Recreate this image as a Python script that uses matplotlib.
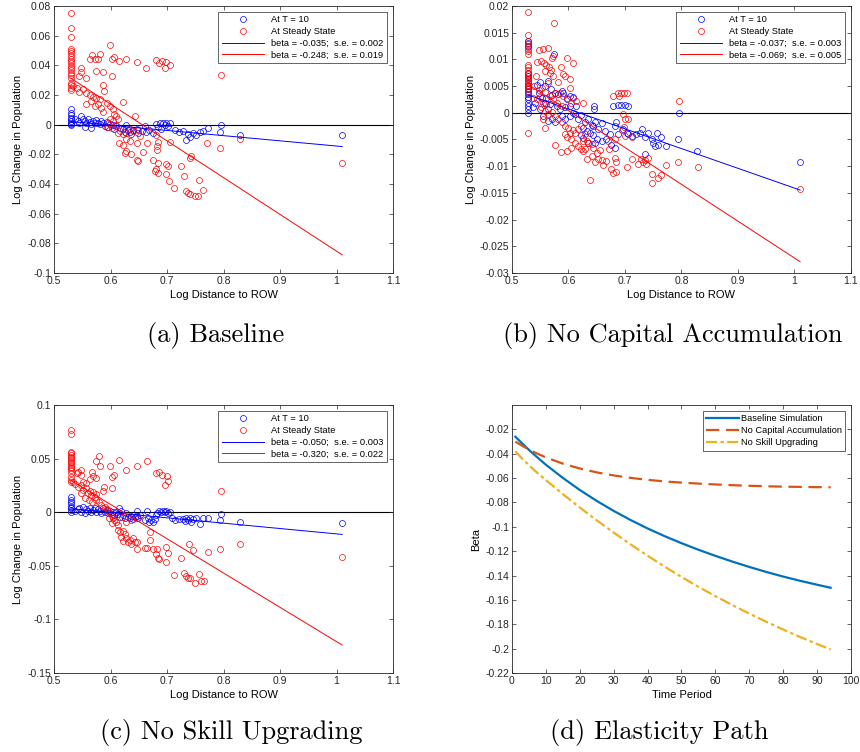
import matplotlib
matplotlib.use("Agg")
import matplotlib.pyplot as plt
from matplotlib.ticker import FuncFormatter

plt.rcParams['font.family'] = ['Liberation Sans', 'DejaVu Sans']
plt.rcParams['axes.unicode_minus'] = False

# === Panel (a) Baseline ===
a_blue_x = [0.530]*9 + [
    0.537, 0.543, 0.545, 0.547, 0.551, 0.554, 0.554, 0.557, 0.560, 0.563, 0.566, 0.566,
    0.569, 0.572, 0.575, 0.578, 0.581, 0.584, 0.587, 0.590, 0.593, 0.596, 0.599, 0.604,
    0.607, 0.610, 0.616, 0.622, 0.625, 0.628, 0.631, 0.634, 0.637, 0.640, 0.646, 0.649,
    0.655, 0.661, 0.663, 0.669, 0.675, 0.681, 0.684, 0.687, 0.690, 0.693, 0.696, 0.699,
    0.702, 0.705, 0.714, 0.722, 0.728, 0.734, 0.737, 0.740, 0.746, 0.752, 0.758, 0.764,
    0.773, 0.796, 0.794, 0.829, 1.010]
a_blue_y = [0.0108, 0.0081, 0.0063, 0.0047, 0.0036, 0.0025, 0.0014, 0.0002, -0.0004] + [
    0.0036, 0.0025, 0.0014, 0.0058, 0.0041, 0.0025, -0.0013, 0.0009, 0.0036, 0.0018, 0.0002, -0.0020,
    0.0025, 0.0014, 0.0032, 0.0014, 0.0002, 0.0025, 0.0009, -0.0009, 0.0018, -0.0013, 0.0002, -0.0004,
    -0.0027, -0.0009, -0.0020, -0.0031, -0.0049, -0.0004, -0.0036, -0.0049, -0.0065, -0.0036, -0.0031, -0.0054,
    -0.0043, -0.0009, -0.0049, -0.0036, -0.0054, 0.0002, -0.0013, 0.0014, -0.0027, 0.0009, -0.0004, 0.0014,
    -0.0009, 0.0009, -0.0036, -0.0049, -0.0043, -0.0103, -0.0065, -0.0081, -0.0054, -0.0072, -0.0049, -0.0043,
    -0.0020, 0.0000, -0.0049, -0.0072, -0.0070]

a_red_x = [0.530]*20 + [
    0.599, 0.568, 0.564, 0.572, 0.578, 0.582, 0.602, 0.607, 0.615, 0.627, 0.646, 0.663,
    0.681, 0.686, 0.692, 0.699, 0.696, 0.705, 0.547, 0.548, 0.545, 0.556, 0.575, 0.587,
    0.603, 0.796, 0.534, 0.540, 0.545, 0.551, 0.557, 0.563, 0.569, 0.574, 0.581, 0.587,
    0.588, 0.566, 0.557, 0.572, 0.578, 0.584, 0.587, 0.593, 0.599, 0.604, 0.607, 0.610,
    0.613, 0.604, 0.622, 0.643, 0.599, 0.596, 0.593, 0.602, 0.610, 0.616, 0.613, 0.622,
    0.628, 0.634, 0.640, 0.649, 0.627, 0.634, 0.615, 0.622, 0.628, 0.637, 0.625, 0.647,
    0.652, 0.665, 0.681, 0.684, 0.682, 0.682, 0.658, 0.675, 0.647, 0.649, 0.684, 0.699,
    0.702, 0.681, 0.678, 0.684, 0.698, 0.704, 0.724, 0.740, 0.743, 0.730, 0.757, 0.749,
    0.734, 0.737, 0.712, 0.755, 0.764, 0.740, 0.771, 0.794, 0.829, 0.705, 1.010]
a_red_y = [0.0755, 0.0649, 0.0593, 0.0512, 0.0497, 0.0481, 0.0463, 0.0445, 0.0429, 0.0414,
           0.0396, 0.0380, 0.0369, 0.0351, 0.0333, 0.0317, 0.0279, 0.0265, 0.0249, 0.0234] + [
    0.0535, 0.0467, 0.0445, 0.0440, 0.0445, 0.0474, 0.0445, 0.0456, 0.0429, 0.0445, 0.0422, 0.0384,
    0.0436, 0.0418, 0.0429, 0.0422, 0.0384, 0.0400, 0.0384, 0.0355, 0.0328, 0.0317, 0.0362, 0.0355,
    0.0328, 0.0333, 0.0261, 0.0249, 0.0220, 0.0238, 0.0211, 0.0198, 0.0189, 0.0182, 0.0171, 0.0265,
    0.0227, 0.0160, 0.0142, 0.0126, 0.0137, 0.0115, 0.0085, 0.0144, 0.0126, 0.0103, 0.0070, 0.0058,
    0.0036, 0.0025, 0.0155, 0.0058, 0.0036, 0.0014, -0.0013, -0.0020, -0.0004, -0.0043, -0.0058, -0.0065,
    -0.0054, -0.0027, -0.0043, -0.0036, -0.0094, -0.0110, -0.0121, -0.0139, -0.0177, -0.0200, -0.0189, -0.0121,
    -0.0076, -0.0126, -0.0072, -0.0117, -0.0144, -0.0171, -0.0184, -0.0238, -0.0238, -0.0243, -0.0256, -0.0267,
    -0.0279, -0.0301, -0.0312, -0.0328, -0.0335, -0.0380, -0.0279, -0.0222, -0.0211, -0.0346, -0.0373, -0.0481,
    -0.0447, -0.0458, -0.0425, -0.0481, -0.0443, -0.0470, -0.0126, -0.0155, -0.0100, -0.0117, -0.0256]

# === Panel (b) No Capital Accumulation ===
b_blue_x = [0.529]*17 + [
    0.575, 0.544, 0.550, 0.558, 0.564, 0.569, 0.576, 0.570, 0.582, 0.588, 0.591, 0.597,
    0.603, 0.608, 0.547, 0.553, 0.541, 0.558, 0.561, 0.567, 0.579, 0.585, 0.594, 0.603,
    0.608, 0.614, 0.538, 0.550, 0.564, 0.555, 0.570, 0.564, 0.576, 0.588, 0.594, 0.603,
    0.611, 0.617, 0.623, 0.629, 0.635, 0.641, 0.647, 0.626, 0.632, 0.644, 0.653, 0.659,
    0.638, 0.623, 0.626, 0.644, 0.650, 0.635, 0.647, 0.659, 0.664, 0.667, 0.673, 0.676,
    0.682, 0.685, 0.682, 0.688, 0.703, 0.697, 0.706, 0.712, 0.720, 0.726, 0.730, 0.735,
    0.741, 0.747, 0.750, 0.753, 0.759, 0.756, 0.763, 0.773, 0.793, 0.828, 0.795, 0.735,
    0.646, 0.646, 0.679, 0.687, 0.693, 0.700, 0.706, 1.010]
b_blue_y = [0.0134, 0.0130, 0.0125, 0.0075, 0.0069, 0.0063, 0.0056, 0.0050, 0.0044, 0.0039,
            0.0035, 0.0030, 0.0025, 0.0019, 0.0013, 0.0007, 0.0000] + [
    0.0110, 0.0053, 0.0058, 0.0050, 0.0060, 0.0044, 0.0037, 0.0033, 0.0035, 0.0041, 0.0038, 0.0025,
    0.0032, 0.0030, 0.0037, 0.0028, 0.0019, 0.0019, 0.0028, 0.0016, 0.0013, 0.0007, 0.0010, 0.0013,
    0.0000, 0.0012, 0.0010, 0.0007, 0.0008, -0.0006, -0.0012, -0.0015, -0.0017, -0.0006, -0.0011, -0.0006,
    -0.0003, -0.0012, -0.0005, -0.0018, -0.0012, -0.0022, -0.0017, -0.0028, -0.0034, -0.0025, -0.0031, -0.0020,
    -0.0037, -0.0042, -0.0048, -0.0042, -0.0050, -0.0056, -0.0056, -0.0053, -0.0034, -0.0050, -0.0040, -0.0061,
    -0.0065, -0.0018, -0.0025, -0.0040, -0.0038, -0.0031, -0.0040, -0.0043, -0.0040, -0.0037, -0.0030, -0.0046,
    -0.0037, -0.0050, -0.0056, -0.0062, -0.0061, -0.0038, -0.0045, -0.0062, -0.0050, -0.0071, -0.0001, -0.0078,
    0.0012, 0.0007, 0.0012, 0.0015, 0.0014, 0.0014, 0.0012, -0.0093]

b_red_x = [0.529]*24 + [
    0.575, 0.564, 0.547, 0.555, 0.544, 0.551, 0.557, 0.561, 0.565, 0.569, 0.558, 0.567,
    0.573, 0.570, 0.587, 0.598, 0.608, 0.594, 0.603, 0.591, 0.582, 0.542, 0.539, 0.547,
    0.553, 0.564, 0.573, 0.558, 0.576, 0.538, 0.544, 0.550, 0.555, 0.561, 0.567, 0.573,
    0.579, 0.585, 0.591, 0.588, 0.597, 0.603, 0.604, 0.608, 0.614, 0.626, 0.551, 0.558,
    0.564, 0.570, 0.576, 0.555, 0.558, 0.582, 0.588, 0.594, 0.600, 0.603, 0.608, 0.594,
    0.597, 0.605, 0.611, 0.617, 0.623, 0.629, 0.611, 0.617, 0.623, 0.626, 0.632, 0.635,
    0.641, 0.629, 0.626, 0.644, 0.650, 0.656, 0.653, 0.632, 0.641, 0.647, 0.661, 0.659,
    0.667, 0.671, 0.682, 0.683, 0.685, 0.676, 0.679, 0.685, 0.638, 0.577, 0.587, 0.598,
    0.703, 0.700, 0.712, 0.712, 0.723, 0.729, 0.732, 0.735, 0.741, 0.738, 0.748, 0.747,
    0.759, 0.763, 0.773, 0.794, 0.829, 0.795, 0.679, 0.687, 0.693, 0.699, 0.704, 0.689,
    0.697, 0.700, 0.706, 0.694, 0.699, 0.670, 0.605, 1.010]
b_red_y = [0.0189, 0.0146, 0.0134, 0.0128, 0.0124, 0.0120, 0.0116, 0.0111, 0.0089, 0.0085,
           0.0080, 0.0075, 0.0072, 0.0069, 0.0066, 0.0063, 0.0060, 0.0056, 0.0053, 0.0050,
           0.0047, 0.0044, 0.0041, -0.0038] + [
    0.0169, 0.0122, 0.0118, 0.0119, 0.0095, 0.0097, 0.0093, 0.0089, 0.0085, 0.0081, 0.0078, 0.0075,
    0.0106, 0.0103, 0.0086, 0.0103, 0.0093, 0.0069, 0.0063, 0.0072, 0.0058, 0.0069, 0.0050, 0.0043,
    0.0047, 0.0056, 0.0068, 0.0039, 0.0037, 0.0028, 0.0025, 0.0030, 0.0019, 0.0016, 0.0032, 0.0025,
    0.0019, 0.0037, 0.0032, 0.0013, 0.0028, 0.0047, 0.0019, 0.0027, 0.0022, 0.0019, 0.0010, 0.0003,
    -0.0003, 0.0002, -0.0006, -0.0012, -0.0028, -0.0012, -0.0018, -0.0025, -0.0028, -0.0037, -0.0032, -0.0040,
    -0.0046, -0.0050, -0.0037, -0.0031, -0.0025, -0.0040, -0.0057, -0.0062, -0.0067, -0.0053, -0.0053, -0.0057,
    -0.0059, -0.0068, -0.0071, -0.0065, -0.0075, -0.0070, -0.0087, -0.0086, -0.0081, -0.0092, -0.0098, -0.0088,
    -0.0090, -0.0068, -0.0050, -0.0084, -0.0093, -0.0105, -0.0112, -0.0111, -0.0126, -0.0061, -0.0073, -0.0071,
    -0.0101, -0.0043, -0.0046, -0.0087, -0.0096, -0.0087, -0.0092, -0.0088, -0.0084, -0.0096, -0.0115, -0.0131,
    -0.0123, -0.0116, -0.0098, -0.0092, -0.0101, 0.0023, 0.0032, 0.0037, 0.0037, 0.0038, 0.0038, 0.0032,
    -0.0003, -0.0011, -0.0012, -0.0032, -0.0026, -0.0053, -0.0065, -0.0142]

# === Panel (c) No Skill Upgrading ===
c_blue_x = [0.530]*8 + [
    0.537, 0.543, 0.545, 0.548, 0.551, 0.554, 0.557, 0.560, 0.563, 0.566, 0.569, 0.572,
    0.575, 0.578, 0.581, 0.584, 0.587, 0.590, 0.593, 0.596, 0.599, 0.602, 0.604, 0.607,
    0.610, 0.613, 0.615, 0.616, 0.619, 0.622, 0.625, 0.628, 0.631, 0.634, 0.637, 0.640,
    0.643, 0.646, 0.646, 0.649, 0.652, 0.665, 0.661, 0.666, 0.669, 0.672, 0.675, 0.678,
    0.680, 0.682, 0.686, 0.690, 0.693, 0.696, 0.699, 0.702, 0.705, 0.708, 0.714, 0.722,
    0.728, 0.731, 0.734, 0.737, 0.740, 0.743, 0.746, 0.752, 0.758, 0.764, 0.773, 0.796,
    0.794, 0.829, 1.010]
c_blue_y = [0.0145, 0.0114, 0.0092, 0.0073, 0.0051, 0.0036, 0.0020, 0.0005] + [
    0.0011, 0.0030, 0.0042, 0.0005, 0.0051, -0.0011, 0.0030, 0.0011, 0.0036, -0.0001, 0.0020, 0.0042,
    0.0005, 0.0030, 0.0011, -0.0011, 0.0036, 0.0005, 0.0020, -0.0011, 0.0011, -0.0020, -0.0001, -0.0026,
    0.0005, -0.0020, 0.0036, -0.0042, 0.0011, -0.0026, -0.0051, -0.0011, -0.0042, -0.0057, -0.0033, -0.0064,
    -0.0042, -0.0033, 0.0011, -0.0051, -0.0026, 0.0011, -0.0073, -0.0057, -0.0095, -0.0073, -0.0089, -0.0064,
    -0.0026, -0.0011, 0.0011, 0.0005, 0.0011, -0.0001, 0.0011, -0.0011, 0.0005, -0.0057, -0.0073, -0.0064,
    -0.0064, -0.0082, -0.0057, -0.0073, -0.0051, -0.0089, -0.0064, -0.0057, -0.0113, -0.0057, -0.0051, -0.0020,
    -0.0073, -0.0089, -0.0098]

c_red_x = [0.530]*18 + [
    0.580, 0.575, 0.582, 0.568, 0.569, 0.574, 0.563, 0.542, 0.547, 0.548, 0.540, 0.599,
    0.615, 0.627, 0.646, 0.665, 0.603, 0.607, 0.603, 0.588, 0.587, 0.680, 0.686, 0.692,
    0.700, 0.696, 0.702, 0.796, 0.534, 0.538, 0.542, 0.547, 0.551, 0.556, 0.552, 0.557,
    0.560, 0.563, 0.566, 0.569, 0.572, 0.575, 0.548, 0.554, 0.562, 0.568, 0.574, 0.580,
    0.584, 0.590, 0.593, 0.596, 0.599, 0.602, 0.604, 0.607, 0.610, 0.613, 0.597, 0.603,
    0.613, 0.616, 0.622, 0.619, 0.625, 0.628, 0.634, 0.640, 0.643, 0.647, 0.622, 0.631,
    0.637, 0.647, 0.661, 0.665, 0.670, 0.675, 0.682, 0.681, 0.684, 0.686, 0.698, 0.702,
    0.698, 0.724, 0.712, 0.730, 0.734, 0.737, 0.740, 0.749, 0.757, 0.761, 0.765, 0.739,
    0.746, 0.773, 0.794, 0.829, 0.670, 0.647, 0.637, 0.627, 0.621, 1.010]
c_red_y = [0.0767, 0.0726, 0.0565, 0.0549, 0.0534, 0.0518, 0.0502, 0.0487, 0.0471, 0.0456,
           0.0440, 0.0425, 0.0409, 0.0394, 0.0362, 0.0331, 0.0300, 0.0278] + [
    0.0527, 0.0478, 0.0431, 0.0378, 0.0341, 0.0322, 0.0310, 0.0378, 0.0394, 0.0347, 0.0362, 0.0431,
    0.0487, 0.0394, 0.0431, 0.0478, 0.0331, 0.0347, 0.0223, 0.0238, 0.0198, 0.0362, 0.0378, 0.0347,
    0.0341, 0.0254, 0.0291, 0.0198, 0.0285, 0.0260, 0.0238, 0.0254, 0.0278, 0.0269, 0.0207, 0.0223,
    0.0176, 0.0198, 0.0160, 0.0185, 0.0145, 0.0167, 0.0176, 0.0129, 0.0114, 0.0098, 0.0114, 0.0092,
    0.0067, 0.0051, 0.0029, 0.0012, -0.0011, -0.0033, -0.0057, -0.0073, -0.0095, -0.0120, -0.0051, -0.0104,
    -0.0166, -0.0188, -0.0176, -0.0228, -0.0207, -0.0244, -0.0260, -0.0244, -0.0281, -0.0275, -0.0269, -0.0281,
    -0.0300, -0.0344, -0.0331, -0.0337, -0.0260, -0.0344, -0.0344, -0.0393, -0.0424, -0.0437, -0.0322, -0.0384,
    -0.0468, -0.0431, -0.0586, -0.0571, -0.0592, -0.0611, -0.0617, -0.0664, -0.0580, -0.0642, -0.0642, -0.0300,
    -0.0353, -0.0368, -0.0344, -0.0300, -0.0182, -0.0057, -0.0073, -0.0089, -0.0042, -0.0420]

# === Fitted lines: (slope, intercept) ===
fit_x = [0.53, 1.01]
a_fit_blue = (-0.035, 0.0206)
a_fit_red = (-0.248, 0.1627)
b_fit_blue = (-0.037, 0.0229)
b_fit_red = (-0.069, 0.0418)
c_fit_blue = (-0.050, 0.0298)
c_fit_red = (-0.320, 0.1993)
a_labels = ["beta = -0.035;  s.e. = 0.002", "beta = -0.248;  s.e. = 0.019"]
b_labels = ["beta = -0.037;  s.e. = 0.003", "beta = -0.069;  s.e. = 0.005"]
c_labels = ["beta = -0.050;  s.e. = 0.003", "beta = -0.320;  s.e. = 0.022"]

# === Panel (d) Elasticity path ===
t = [1, 3, 5, 7, 10, 15, 20, 25, 30, 35, 40, 45, 50, 55, 60, 65, 70, 75, 80, 85, 90, 94]
beta_base = [-0.026, -0.0315, -0.0368, -0.0418, -0.049, -0.0598, -0.0697, -0.0787, -0.0869, -0.0944,
             -0.1013, -0.1076, -0.1134, -0.1188, -0.1238, -0.1285, -0.1329, -0.1370, -0.1408,
             -0.1443, -0.1475, -0.150]
beta_nocap = [-0.030, -0.0334, -0.0365, -0.0393, -0.0430, -0.0481, -0.0521, -0.0553, -0.0578, -0.0598,
              -0.0614, -0.0627, -0.0637, -0.0645, -0.0652, -0.0658, -0.0663, -0.0667, -0.0670,
              -0.0672, -0.0674, -0.0675]
beta_noskill = [-0.038, -0.0440, -0.0494, -0.0545, -0.0616, -0.0731, -0.0841, -0.0946, -0.1047, -0.1144,
                -0.1237, -0.1326, -0.1411, -0.1492, -0.1569, -0.1642, -0.1712, -0.1779, -0.1843,
                -0.1904, -0.1962, -0.2006]

FS_TICK = 7.5
FS_LABEL = 8
FS_LEG = 6.7
EDGE = '#262626'
fmt = FuncFormatter(lambda v, p: f'{round(v, 4):g}')


def style_axes(ax):
    for s in ax.spines.values():
        s.set_color(EDGE)
        s.set_linewidth(0.6)
    ax.tick_params(direction='in', top=True, right=True, length=3, width=0.5,
                   labelsize=FS_TICK, colors=EDGE, pad=2)
    ax.xaxis.set_major_formatter(fmt)
    ax.yaxis.set_major_formatter(fmt)


def finish_legend(leg):
    leg.get_frame().set_edgecolor(EDGE)
    leg.get_frame().set_linewidth(0.5)


def scatter_panel(ax, bx, by, rx, ry, fb, fr, labels, ylim, yticks):
    ax.axhline(0, color='black', lw=0.8, zorder=1)
    ax.plot(bx, by, 'o', ms=4.3, mfc='none', mec='blue', mew=0.5, label='At T = 10')
    ax.plot(rx, ry, 'o', ms=4.3, mfc='none', mec='red', mew=0.5, label='At Steady State')
    ax.plot(fit_x, [fb[1] + fb[0] * x for x in fit_x], color='blue', lw=0.7, label=labels[0])
    ax.plot(fit_x, [fr[1] + fr[0] * x for x in fit_x], color='red', lw=0.7, label=labels[1])
    ax.set_xlim(0.5, 1.1)
    ax.set_xticks([0.5, 0.6, 0.7, 0.8, 0.9, 1.0, 1.1])
    ax.set_ylim(*ylim)
    ax.set_yticks(yticks)
    ax.set_xlabel('Log Distance to ROW', fontsize=FS_LABEL, labelpad=3)
    ax.set_ylabel('Log Change in Population', fontsize=FS_LABEL, labelpad=3)
    style_axes(ax)
    leg = ax.legend(loc='upper right', fontsize=FS_LEG, handlelength=4.5, numpoints=1,
                    fancybox=False, framealpha=1, borderaxespad=0.6, labelspacing=0.3)
    finish_legend(leg)


fig = plt.figure(figsize=(8.6, 7.52), dpi=100)
ax_a = fig.add_axes([0.0628, 0.637, 0.3942, 0.355])
ax_b = fig.add_axes([0.5953, 0.637, 0.3942, 0.355])
ax_c = fig.add_axes([0.0628, 0.105, 0.3942, 0.3564])
ax_d = fig.add_axes([0.5953, 0.105, 0.3942, 0.3564])

scatter_panel(ax_a, a_blue_x, a_blue_y, a_red_x, a_red_y, a_fit_blue, a_fit_red, a_labels,
              (-0.1, 0.08), [-0.1, -0.08, -0.06, -0.04, -0.02, 0, 0.02, 0.04, 0.06, 0.08])
scatter_panel(ax_b, b_blue_x, b_blue_y, b_red_x, b_red_y, b_fit_blue, b_fit_red, b_labels,
              (-0.03, 0.02), [-0.03, -0.025, -0.02, -0.015, -0.01, -0.005, 0, 0.005, 0.01, 0.015, 0.02])
scatter_panel(ax_c, c_blue_x, c_blue_y, c_red_x, c_red_y, c_fit_blue, c_fit_red, c_labels,
              (-0.15, 0.1), [-0.15, -0.1, -0.05, 0, 0.05, 0.1])

ax_d.plot(t, beta_base, color='#0072BD', lw=1.6, label='Baseline Simulation')
ax_d.plot(t, beta_nocap, color='#D95319', lw=1.6, ls=(0, (6, 3)), label='No Capital Accumulation')
ax_d.plot(t, beta_noskill, color='#EDB120', lw=1.6, ls=(0, (5, 1.5, 1.5, 1.5)), label='No Skill Upgrading')
ax_d.set_xlim(0, 100)
ax_d.set_xticks(range(0, 101, 10))
ax_d.set_ylim(-0.22, 0)
ax_d.set_yticks([-0.22, -0.2, -0.18, -0.16, -0.14, -0.12, -0.1, -0.08, -0.06, -0.04, -0.02])
ax_d.set_xlabel('Time Period', fontsize=FS_LABEL, labelpad=3)
ax_d.set_ylabel('Beta', fontsize=FS_LABEL, labelpad=3)
style_axes(ax_d)
leg = ax_d.legend(loc='upper right', fontsize=FS_LEG, handlelength=3.5, fancybox=False,
                  framealpha=1, borderaxespad=0.6, labelspacing=0.3, handletextpad=0.2)
finish_legend(leg)

# === Sub-captions ===
cap = dict(fontsize=19, family='cmr10', ha='center', va='center')
fig.text(0.251, 0.554, '(a) Baseline', **cap)
fig.text(0.782, 0.554, '(b) No Capital Accumulation', **cap)
fig.text(0.269, 0.026, '(c) No Skill Upgrading', **cap)
fig.text(0.767, 0.026, '(d) Elasticity Path', **cap)

fig.savefig('out.png', dpi=100)
